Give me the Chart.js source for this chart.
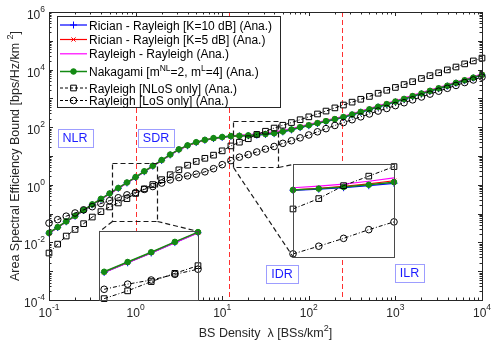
<!DOCTYPE html>
<html>
<head>
<meta charset="utf-8">
<script src="https://cdn.jsdelivr.net/npm/chart.js@4.4.1/dist/chart.umd.min.js"></script>
<style>
  html, body { margin: 0; padding: 0; background: #fff; }
  #stage { position: relative; width: 491px; height: 344px; overflow: hidden; }
  #stage canvas { position: absolute; left: 0; top: 0; }
</style>
</head>
<body>
<div id="stage">
  <canvas id="aseChart" width="491" height="344"></canvas>
  <canvas id="zoomLow" width="10" height="10"></canvas>
  <canvas id="zoomMid" width="10" height="10"></canvas>
</div>
<script>
// ── Data ───────────────────────────────────────────────
const BS_DENSITY = [0.1, 0.126, 0.158, 0.2, 0.251, 0.316, 0.398, 0.501, 0.631, 0.794,
  1, 1.26, 1.58, 2, 2.51, 3.16, 3.98, 5.01, 6.31, 7.94,
  10, 12.6, 15.8, 20, 25.1, 31.6, 39.8, 50.1, 63.1, 79.4,
  100, 126, 158, 200, 251, 316, 398, 501, 631, 794,
  1000, 1260, 1580, 2000, 2510, 3160, 3980, 5010, 6310, 7940, 10000];

const ASE_RICIAN_K10 = [0.0208, 0.0329, 0.0521, 0.0807, 0.128, 0.203, 0.314, 0.486, 0.753, 1.16,
  1.80, 2.86, 4.43, 7.02, 10.9, 16.5, 22.7, 29.3, 35.2, 40.4,
  44.3, 48.0, 49.6, 51.1, 53.2, 56.1, 59.8, 68.7, 80.7, 97.0,
  113, 134, 157, 185, 217, 267, 329, 404, 498, 612,
  753, 926, 1160, 1440, 1770, 2170, 2670, 3370, 4140, 5090, 6410];

const ASE_RICIAN_K5 = [0.0211, 0.0334, 0.0529, 0.0820, 0.130, 0.206, 0.319, 0.493, 0.764, 1.18,
  1.83, 2.91, 4.50, 7.13, 11.0, 16.7, 23.0, 29.7, 35.8, 41.1,
  45.0, 48.5, 50.1, 52.4, 55.3, 59.0, 64.0, 72.9, 85.7, 103,
  121, 142, 167, 197, 231, 283, 349, 430, 528, 650,
  799, 984, 1240, 1520, 1870, 2310, 2830, 3570, 4400, 5410, 6810];

const ASE_RAYLEIGH = [0.0207, 0.0327, 0.0519, 0.0804, 0.128, 0.202, 0.313, 0.484, 0.750, 1.16,
  1.80, 2.85, 4.42, 7.00, 10.8, 16.5, 22.7, 29.4, 35.6, 41.3,
  45.7, 50.5, 53.1, 55.5, 58.6, 63.2, 69.1, 77.2, 89.0, 107,
  125, 148, 173, 204, 240, 294, 363, 446, 549, 675,
  830, 1020, 1280, 1580, 1950, 2400, 2940, 3710, 4570, 5620, 7070];

const ASE_NAKAGAMI = [0.0214, 0.0339, 0.0537, 0.0832, 0.132, 0.209, 0.324, 0.501, 0.776, 1.20,
  1.86, 2.95, 4.57, 7.24, 11.2, 17.0, 23.4, 30.2, 36.3, 41.7,
  45.7, 49.0, 50.1, 51.9, 54.3, 57.5, 61.7, 70.8, 83.2, 100,
  117, 138, 162, 191, 224, 275, 339, 417, 513, 631,
  776, 955, 1200, 1480, 1820, 2240, 2750, 3470, 4270, 5250, 6610];

const ASE_NLOS = [0.00427, 0.00871, 0.0166, 0.0282, 0.0447, 0.0759, 0.117, 0.170, 0.234, 0.331,
  0.501, 0.724, 1.02, 1.51, 2.24, 3.31, 4.79, 6.46, 8.32, 10.7,
  15.1, 22.4, 30.2, 39.8, 56.2, 72.4, 93.3, 117, 145, 182,
  229, 288, 363, 468, 589, 741, 933, 1170, 1510, 1910,
  2400, 3020, 3800, 4900, 6170, 7760, 9770, 12300, 15800, 20000, 25100];

const ASE_LOS = [0.0468, 0.0617, 0.0813, 0.105, 0.135, 0.174, 0.224, 0.282, 0.355, 0.447,
  0.537, 0.692, 0.871, 1.15, 1.48, 1.78, 2.04, 2.34, 2.82, 3.63,
  5.01, 6.92, 9.12, 11.2, 13.8, 17.4, 21.4, 27.5, 33.9, 42.7,
  53.7, 69.2, 89.1, 115, 145, 182, 229, 288, 363, 447,
  562, 708, 891, 1120, 1410, 1780, 2240, 2820, 3550, 4370, 5500];

const X_DECADES = [-1, 0, 1, 2, 3, 4];
const Y_DECADES = [-4, -2, 0, 2, 4, 6];
const REGION_BOUNDS = [1, 12, 240];          // red dashed verticals
const REGION_NAMES = ['NLR', 'SDR', 'IDR', 'ILR'];

// ── Look ──────────────────────────────────
const FONT = '"Liberation Sans", Arial, Helvetica, sans-serif';
const INK = '#262626';
const GREEN = '#138a13';

const SERIES = [
  { name: [['Rician - Rayleigh [K=10 dB] (Ana.)']], values: ASE_RICIAN_K10, color: '#0000ff', width: 1.2, marker: 'cross', radius: 3.5, fill: 'rgba(0,0,0,0)', dash: [], order: 5 },
  { name: [['Rician - Rayleigh [K=5 dB] (Ana.)']], values: ASE_RICIAN_K5, color: '#ff0000', width: 1.2, marker: 'crossRot', radius: 3, fill: 'rgba(0,0,0,0)', dash: [], order: 4 },
  { name: [['Rayleigh - Rayleigh (Ana.)']], values: ASE_RAYLEIGH, color: '#ff00ff', width: 1.2, marker: 'circle', radius: 0, fill: '#ff00ff', dash: [], order: 3 },
  { name: [['Nakagami [m'], ['NL', 1], ['=2, m'], ['L', 1], ['=4] (Ana.)']], values: ASE_NAKAGAMI, color: GREEN, width: 1.5, marker: 'circle', radius: 2.8, fill: GREEN, dash: [], order: 2 },
  { name: [['Rayleigh [NLoS only] (Ana.)']], values: ASE_NLOS, color: '#000', width: 1, marker: 'rect', radius: 4, fill: 'rgba(0,0,0,0)', dash: [4, 2, 1, 2], order: 1 },
  { name: [['Rayleigh [LoS only] (Ana.)']], values: ASE_LOS, color: '#000', width: 1, marker: 'circle', radius: 3.3, fill: 'rgba(0,0,0,0)', dash: [4, 2, 1, 2], order: 0 },
];

// region tags sit at data coordinates of the main axes
const REGION_TAGS = [
  { x: 0.2, y: 42 }, { x: 1.72, y: 42 }, { x: 49, y: 0.0008 }, { x: 1456, y: 0.00087 },
];

// zoom insets: source box, panel (both in main-axis data units) and shown range
const ZOOMS = [
  { canvas: 'zoomLow', from: 8, to: 12, yRange: [0.22, 4.8],
    box: { x: [0.533, 1.77], y: [0.0553, 5.7] },
    panel: { x: [0.378, 5.25], y: [1e-4, 0.0249] },
    links: [['bl', 'tl'], ['br', 'tr']] },
  { canvas: 'zoomMid', from: 22, to: 26, yRange: [8.4, 100],
    box: { x: [13.3, 44], y: [4.3, 158] },
    panel: { x: [65.8, 964], y: [0.00311, 5.27] },
    links: [['bl', 'bl'], ['br', 'tl']] },
];

// ── Helpers ───────────────────────────────
function points(values, from, to) {
  const pts = [];
  for (let i = from; i <= to; i++) pts.push({ x: BS_DENSITY[i], y: values[i] });
  return pts;
}

function datasets(from, to) {
  return SERIES.map(s => ({
    label: s.name.map(p => p[0]).join(''),
    data: points(s.values, from, to),
    borderColor: s.color,
    backgroundColor: s.fill,
    borderWidth: s.width,
    borderDash: s.dash,
    pointStyle: s.marker,
    pointRadius: s.radius,
    pointBorderColor: s.color,
    pointBackgroundColor: s.fill,
    pointBorderWidth: 1,
    order: s.order,
    clip: false,
    tension: 0,
  }));
}

// text made of [text, isSup] parts
function richWidth(ctx, parts, size, supSize) {
  let w = 0;
  parts.forEach(([t, sup]) => {
    ctx.font = `${sup ? supSize : size}px ${FONT}`;
    w += ctx.measureText(t).width;
  });
  return w;
}
function drawRich(ctx, parts, x, y, size, supSize, rise) {
  ctx.textBaseline = 'alphabetic';
  ctx.textAlign = 'left';
  parts.forEach(([t, sup]) => {
    ctx.font = `${sup ? supSize : size}px ${FONT}`;
    ctx.fillText(t, x, sup ? y - rise : y);
    x += ctx.measureText(t).width;
  });
}

function rectPx(chart, spec) {
  const { x, y } = chart.scales;
  return {
    l: Math.round(x.getPixelForValue(spec.x[0])),
    r: Math.round(x.getPixelForValue(spec.x[1])),
    t: Math.round(y.getPixelForValue(spec.y[1])),
    b: Math.round(y.getPixelForValue(spec.y[0])),
  };
}
function corner(r, c) {
  return [c[1] === 'l' ? r.l : r.r, c[0] === 't' ? r.t : r.b];
}

function line(ctx, x1, y1, x2, y2) {
  ctx.beginPath(); ctx.moveTo(x1, y1); ctx.lineTo(x2, y2); ctx.stroke();
}

// ── Plugins ───────────────────────────────
const backdrop = {
  id: 'backdrop',
  beforeDatasetsDraw(chart) {
    const { ctx, chartArea: a, scales: { x } } = chart;
    ctx.save();
    ctx.strokeStyle = '#ff3030';
    ctx.lineWidth = 1;
    ctx.setLineDash([5, 3]);
    REGION_BOUNDS.forEach(v => {
      const px = Math.round(x.getPixelForValue(v)) + 0.5;
      line(ctx, px, a.top, px, a.bottom);
    });
    ctx.restore();
  },
  afterDatasetsDraw(chart) {
    const { ctx } = chart;
    ctx.save();
    ctx.strokeStyle = '#1a1a1a';
    ctx.lineWidth = 1.2;
    ctx.setLineDash([5, 3]);
    ZOOMS.forEach(z => {
      const b = rectPx(chart, z.box), p = rectPx(chart, z.panel);
      ctx.strokeRect(b.l + 0.5, b.t + 0.5, b.r - b.l, b.b - b.t);
      z.links.forEach(([from, to]) => {
        const [x1, y1] = corner(b, from), [x2, y2] = corner(p, to);
        line(ctx, x1 + 0.5, y1 + 0.5, x2 + 0.5, y2 + 0.5);
      });
    });
    ctx.restore();
  },
};

const axesFrame = {
  id: 'axesFrame',
  afterDraw(chart) {
    const { ctx, chartArea: a, scales: { x, y } } = chart;
    ctx.save();
    ctx.strokeStyle = INK;
    ctx.fillStyle = INK;
    ctx.lineWidth = 1;

    // ticks, inside on all four sides
    const xTop = Math.pow(10, X_DECADES[X_DECADES.length - 1]);
    for (let e = X_DECADES[0]; e <= X_DECADES[X_DECADES.length - 1]; e++) {
      for (let m = 1; m <= 9; m++) {
        const v = m * Math.pow(10, e);
        if (v > 1.0001 * xTop) break;
        const px = Math.round(x.getPixelForValue(v)) + 0.5;
        const len = m === 1 ? 4 : 2.5;
        line(ctx, px, a.bottom, px, a.bottom - len);
        line(ctx, px, a.top, px, a.top + len);
      }
    }
    const yTop = Math.pow(10, Y_DECADES[Y_DECADES.length - 1]);
    for (let e = Y_DECADES[0]; e <= Y_DECADES[Y_DECADES.length - 1]; e++) {
      for (let m = 1; m <= 9; m++) {
        const v = m * Math.pow(10, e);
        if (v > 1.0001 * yTop) break;
        const py = Math.round(y.getPixelForValue(v)) + 0.5;
        const len = m === 1 ? 4 : 2.5;
        line(ctx, a.left, py, a.left + len, py);
        line(ctx, a.right, py, a.right - len, py);
      }
    }
    ctx.strokeRect(Math.round(a.left) + 0.5, Math.round(a.top) + 0.5,
      Math.round(a.right - a.left), Math.round(a.bottom - a.top));

    // tick labels 10^n
    X_DECADES.forEach(e => {
      const parts = [['10'], [String(e), 1]];
      const w = richWidth(ctx, parts, 12, 8.5);
      drawRich(ctx, parts, x.getPixelForValue(Math.pow(10, e)) - w / 2, a.bottom + 17, 12, 8.5, 7);
    });
    Y_DECADES.forEach(e => {
      const parts = [['10'], [String(e), 1]];
      const w = richWidth(ctx, parts, 12, 8.5);
      drawRich(ctx, parts, a.left - 4 - w, y.getPixelForValue(Math.pow(10, e)) + 7, 12, 8.5, 7);
    });

    // axis titles
    const xt = [['BS Density  \u03bb [BSs/km'], ['2', 1], [']']];
    const xw = richWidth(ctx, xt, 12.5, 9);
    drawRich(ctx, xt, (a.left + a.right) / 2 - xw / 2, a.bottom + 37, 12.5, 9, 6);

    const yt = [['Area Spectral Efficiency Bound [bps/Hz/km '], ['2', 1], [']']];
    const yw = richWidth(ctx, yt, 12.5, 9);
    ctx.save();
    ctx.translate(19, (a.top + a.bottom) / 2);
    ctx.rotate(-Math.PI / 2);
    drawRich(ctx, yt, -yw / 2, 0, 12.5, 9, 6);
    ctx.restore();

    // region tags
    REGION_NAMES.forEach((name, i) => {
      const cx = x.getPixelForValue(REGION_TAGS[i].x);
      const cy = y.getPixelForValue(REGION_TAGS[i].y);
      ctx.font = `12.5px ${FONT}`;
      const w = ctx.measureText(name).width;
      ctx.fillStyle = '#fff';
      ctx.fillRect(cx - w / 2 - 5, cy - 9, w + 10, 18);
      ctx.strokeStyle = '#3a3aff';
      ctx.setLineDash([1, 1]);
      ctx.strokeRect(Math.round(cx - w / 2 - 5) + 0.5, Math.round(cy - 9) + 0.5, Math.round(w + 10), 18);
      ctx.setLineDash([]);
      ctx.fillStyle = '#1c1cff';
      ctx.textAlign = 'center';
      ctx.textBaseline = 'middle';
      ctx.fillText(name, cx, cy + 0.5);
    });

    // legend
    const lg = { l: a.left + 8, t: a.top + 4, w: 223, h: 91 };
    const rows = [9, 23.5, 37.8, 55.5, 72, 84.5];
    ctx.fillStyle = '#fff';
    ctx.fillRect(lg.l, lg.t, lg.w, lg.h);
    ctx.strokeStyle = INK;
    ctx.lineWidth = 1;
    ctx.strokeRect(lg.l + 0.5, lg.t + 0.5, lg.w, lg.h);
    SERIES.forEach((s, i) => {
      const ry = lg.t + rows[i];
      ctx.strokeStyle = s.color;
      ctx.lineWidth = s.width;
      ctx.setLineDash(s.dash.length ? [3, 2] : []);
      line(ctx, lg.l + 3, ry, lg.l + 30, ry);
      ctx.setLineDash([]);
      if (s.radius > 0) {
        ctx.fillStyle = s.fill;
        ctx.lineWidth = 1;
        Chart.helpers.drawPoint(ctx, { pointStyle: s.marker, radius: s.radius, rotation: 0, borderWidth: 1 }, lg.l + 16.5, ry);
      }
      ctx.fillStyle = '#000';
      drawRich(ctx, s.name, lg.l + 32, ry + 4.5, 12, 8.5, 5.5);
    });
    ctx.restore();
  },
};

const panelFrame = {
  id: 'panelFrame',
  beforeDatasetsDraw(chart) {
    const { ctx, chartArea: a } = chart;
    ctx.save();
    ctx.fillStyle = '#fff';
    ctx.fillRect(a.left, a.top, a.right - a.left + 1, a.bottom - a.top + 1);
    ctx.restore();
  },
  afterDraw(chart) {
    const { ctx, chartArea: a } = chart;
    ctx.save();
    ctx.strokeStyle = '#4a4a4a';
    ctx.lineWidth = 1;
    ctx.strokeRect(a.left + 0.5, a.top + 0.5, a.right - a.left, a.bottom - a.top);
    ctx.restore();
  },
};

// ── Main chart ────────────────────────────
const N = BS_DENSITY.length - 1;
const mainChart = new Chart(document.getElementById('aseChart'), {
  type: 'line',
  data: { datasets: datasets(0, N) },
  options: {
    responsive: false,
    animation: false,
    devicePixelRatio: 1,
    layout: { padding: { left: 49, right: 9, top: 12, bottom: 44 } },
    plugins: { legend: { display: false }, tooltip: { enabled: false } },
    scales: {
      x: { type: 'logarithmic', min: 0.1, max: 10000, display: false },
      y: { type: 'logarithmic', min: 1e-4, max: 1e6, display: false },
    },
  },
  plugins: [backdrop, axesFrame],
});

// ── Zoom insets ───────────────────────────
const M = 6;
ZOOMS.forEach(z => {
  const p = rectPx(mainChart, z.panel);
  const cv = document.getElementById(z.canvas);
  cv.width = p.r - p.l + 2 * M;
  cv.height = p.b - p.t + 2 * M;
  cv.style.left = (p.l - M) + 'px';
  cv.style.top = (p.t - M) + 'px';
  new Chart(cv, {
    type: 'line',
    data: { datasets: datasets(z.from, z.to) },
    options: {
      responsive: false,
      animation: false,
      devicePixelRatio: 1,
      layout: { padding: M },
      plugins: { legend: { display: false }, tooltip: { enabled: false } },
      scales: {
        x: { type: 'logarithmic', min: BS_DENSITY[z.from], max: BS_DENSITY[z.to], display: false },
        y: { type: 'logarithmic', min: z.yRange[0], max: z.yRange[1], display: false },
      },
    },
    plugins: [panelFrame],
  });
});
</script>
</body>
</html>
